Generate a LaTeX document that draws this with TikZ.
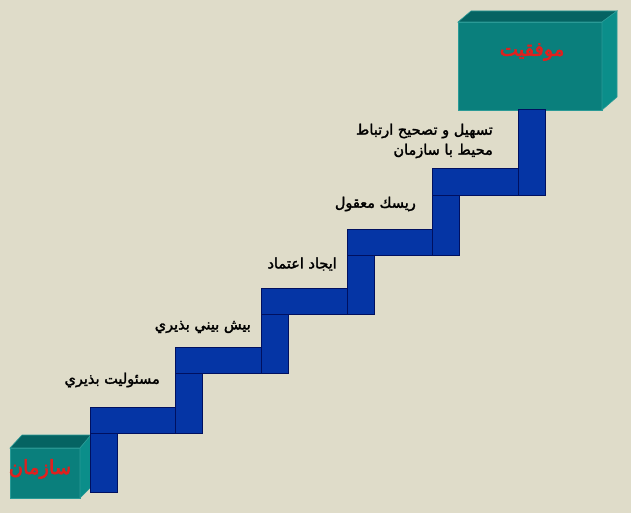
\documentclass[tikz,border=0pt]{standalone}
\usepackage{fontspec}
\TeXXeTstate=1
\newfontfamily\arabicbold[Script=Arabic,FakeBold=2]{DejaVu Sans}
\newfontfamily\titlefont[Script=Arabic,FakeBold=3]{DejaVu Sans}
\definecolor{paper}{HTML}{DFDCC9}
\definecolor{stairblue}{HTML}{0535A5}
\definecolor{stairedge}{HTML}{001060}
\definecolor{tealfront}{HTML}{0A7F7C}
\definecolor{tealtop}{HTML}{056362}
\definecolor{tealside}{HTML}{0B8E8A}
\definecolor{tealedge}{HTML}{2A9A96}
\definecolor{titlered}{HTML}{E0201E}
\begin{document}
\begin{tikzpicture}[x=1pt,y=-1pt,
  bar/.style={fill=stairblue,draw=stairedge,line width=1pt},
  front/.style={fill=tealfront,draw=tealedge,line width=0.6pt},
  topface/.style={fill=tealtop,draw=tealedge,line width=0.6pt},
  sideface/.style={fill=tealside,draw=tealedge,line width=0.6pt},
  label/.style={font=\arabicbold\fontsize{14.5}{17}\selectfont,text=black,inner sep=0pt,anchor=east},
  boxtitle/.style={font=\titlefont\fontsize{19.5}{22}\selectfont,text=titlered,inner sep=0pt}]
\fill[paper] (0,0) rectangle (631,513);
\useasboundingbox (0,0) rectangle (631,513);
% bottom box
\filldraw[front] (10,448) rectangle (80,498);
\filldraw[topface] (10,448) -- (22,435) -- (91,435) -- (80,448) -- cycle;
\filldraw[sideface] (80,448) -- (91,435) -- (91,487) -- (80,498) -- cycle;
% top box
\filldraw[front] (458,22) rectangle (602,110);
\filldraw[topface] (458,22) -- (471,11) -- (617,11) -- (602,22) -- cycle;
\filldraw[sideface] (602,22) -- (617,11) -- (617,97) -- (602,110) -- cycle;
% stairs: horizontal treads
\foreach \hl/\hr/\ht in {432/545/169, 347/459/229, 261/373/288, 175/288/347, 90/202/407}{
  \filldraw[bar] (\hl,\ht) rectangle (\hr,\ht+26);
}
% stairs: vertical risers
\foreach \vx/\vt/\vb in {518/110/195, 432/195/255, 347/255/314, 261/314/373, 175/373/433, 90/433/492}{
  \filldraw[bar] (\vx,\vt) rectangle (\vx+27,\vb);
}
% texts
\node[boxtitle] (goal) at (532,52) {\beginR موفقيت\endR};
\node[boxtitle] (org) at (40,469) {\beginR سازمان\endR};
\node[label] (t1) at (493,131) {\beginR تسهيل و تصحيح ارتباط\endR};
\node[label] (t2) at (493,151) {\beginR محيط با سازمان\endR};
\node[label] (t3) at (416,204) {\beginR ريسك معقول\endR};
\node[label] (t4) at (337,264) {\beginR ايجاد اعتماد\endR};
\node[label] (t5) at (251,327) {\beginR بيش بيني بذيري\endR};
\node[label] (t6) at (160,380) {\beginR مسئوليت بذيري\endR};
\end{tikzpicture}
\end{document}
